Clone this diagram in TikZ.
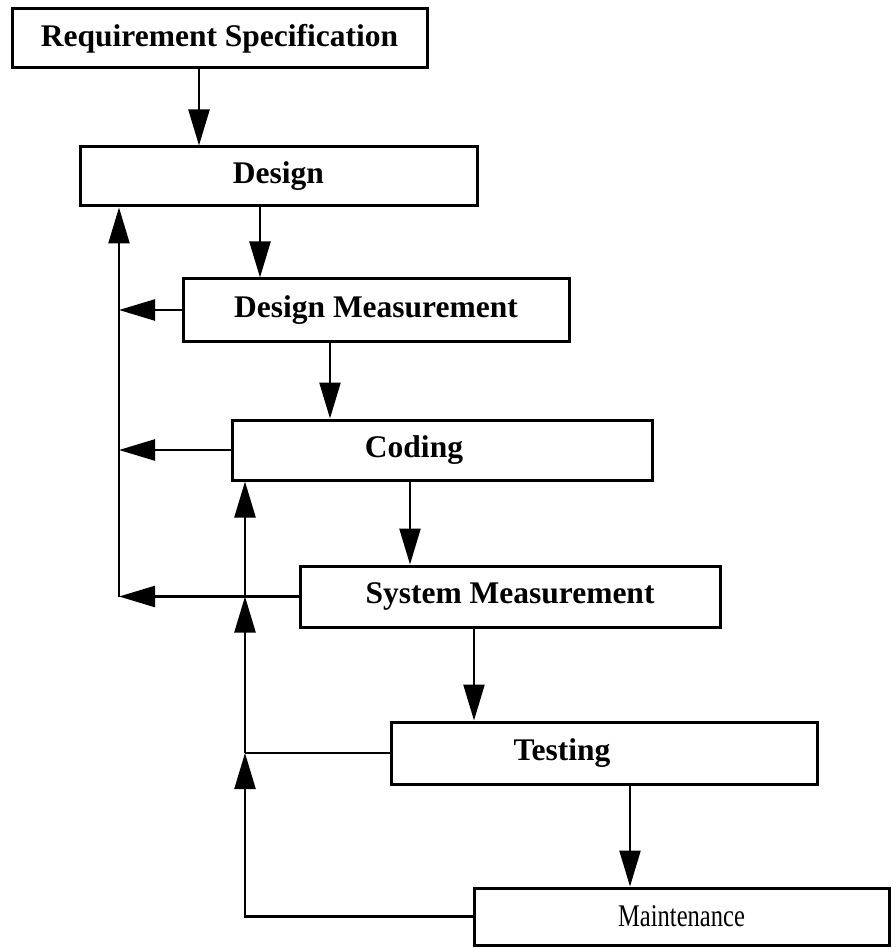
\documentclass[tikz,border=0pt]{standalone}
\usepackage{fontspec}
\setmainfont{Liberation Serif}
\newfontfamily\narrowserif[FakeStretch=0.78]{Liberation Serif}
\usetikzlibrary{arrows.meta,positioning}

\begin{document}
\begin{tikzpicture}[
  x=1pt,y=-1pt,
  stage/.style={draw,line width=3pt,minimum height=60pt,inner sep=0pt,
               font=\fontsize{31.5}{36}\selectfont\bfseries},
  arr/.style={-{Triangle[length=36pt,width=21pt]},line width=2.4pt},
  ln/.style={line width=2.4pt}
]
\useasboundingbox (0,0) rectangle (892,949);
\node[stage,minimum width=415pt,minimum height=59pt] (req) at (219.5,38.5) {Requirement Specification};
\node[stage,minimum width=397pt,minimum height=59pt] (design) at (278.5,176.5) {Design};
\node[stage,minimum width=386pt,minimum height=62pt] (dm) at (376,310) {Design Measurement};
\node[stage,minimum width=420pt] (coding) at (442,450) {Coding\hspace*{56pt}};
\node[stage,minimum width=420pt,minimum height=61pt] (sm) at (510,596.5) {System Measurement};
\node[stage,minimum width=426pt,minimum height=62pt] (testing) at (604,753) {Testing\hspace*{84pt}};
\node[stage,minimum width=415pt,minimum height=57pt,
      font=\fontsize{31.5}{36}\selectfont\narrowserif] (maint) at (681.5,916.5) {Maintenance};
% feedback buses
\coordinate (lbus) at (119,0);
\coordinate (rbus) at (245,0);
% main flow
\draw[arr] ([xshift=-20.5pt]req.south) -- ([xshift=-20.5pt]req.south |- design.north);
\draw[arr] ([xshift=-18.5pt]design.south) -- ([xshift=-18.5pt]design.south |- dm.north);
\draw[arr] ([xshift=-46pt]dm.south) -- ([xshift=-46pt]dm.south |- coding.north);
\draw[arr] ([xshift=-32pt]coding.south) -- ([xshift=-32pt]coding.south |- sm.north);
\draw[arr] ([xshift=-36pt]sm.south) -- ([xshift=-36pt]sm.south |- testing.north);
\draw[arr] ([xshift=26pt]testing.south) -- ([xshift=26pt]testing.south |- maint.north);
% back to design
\draw[arr] (dm.west) -- (dm.west -| lbus);
\draw[arr] (coding.west) -- (coding.west -| lbus);
\draw[arr] (sm.west) -- (sm.west -| lbus);
\draw[arr] (sm.west -| lbus) -- (design.south -| lbus);
% back to coding
\draw[arr] (maint.west) -| (testing.west -| rbus);
\draw[ln] (testing.west) -- (testing.west -| rbus);
\draw[arr] (testing.west -| rbus) -- (sm.west -| rbus);
\draw[arr] (sm.west -| rbus) -- (coding.south -| rbus);
\end{tikzpicture}
\end{document}
